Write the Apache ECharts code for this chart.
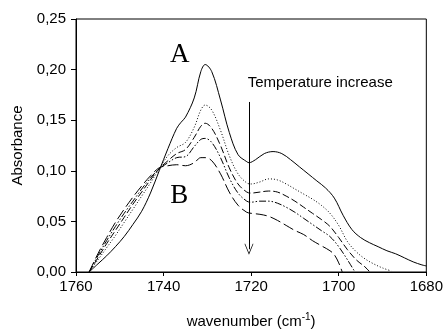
<!DOCTYPE html>
<html>
<head>
<meta charset="utf-8">
<script src="https://cdn.jsdelivr.net/npm/echarts@6/dist/echarts.min.js"></script>
<style>html,body{margin:0;padding:0;background:#fff}#c{width:446px;height:334px}</style>
</head>
<body>
<div id="c"></div>
<script>
// Wavenumbers (cm-1) and absorbance for each spectrum, from low to high temperature
var xA   = [1757,1755,1753,1751,1749,1747,1745,1743,1741,1739,1737,1736,1735,1733,1731.5,1730.5,1729,1727,1725,1723,1721,1720.5,1719,1717,1715,1713,1711,1709,1707,1705,1703,1701,1699,1697,1695,1693,1691,1689,1687,1685,1683,1681,1680];
var yA   = [0,0.008,0.016,0.025,0.035,0.047,0.060,0.078,0.100,0.122,0.142,0.148,0.153,0.172,0.198,0.205,0.198,0.170,0.138,0.116,0.109,0.108,0.111,0.117,0.119,0.117,0.111,0.104,0.097,0.090,0.083,0.073,0.056,0.042,0.034,0.029,0.025,0.021,0.018,0.014,0.010,0.007,0.006];

var xT   = [1757,1755,1753,1751,1749,1747,1745,1743,1741,1739,1737,1735,1733,1731.5,1730.5,1729,1727,1725,1723,1721,1720,1718,1716,1714,1712,1710,1708,1706,1704,1702,1700,1698,1696,1694,1692,1690,1688];
var y2   = [0,0.012,0.024,0.036,0.049,0.062,0.075,0.088,0.102,0.115,0.123,0.128,0.143,0.160,0.165,0.160,0.140,0.115,0.097,0.088,0.087,0.089,0.092,0.091,0.087,0.082,0.077,0.072,0.066,0.058,0.046,0.030,0.020,0.013,0.008,0.004,0.001];

var x3   = [1757,1755,1753,1751,1749,1747,1745,1743,1741,1739,1737,1735,1733,1731.5,1730.5,1729,1727,1725,1723,1721,1720,1718,1716,1714,1712,1710,1708,1706,1704,1702,1700,1698,1696,1694,1692.9];
var y3   = [0,0.014,0.028,0.041,0.054,0.067,0.079,0.091,0.102,0.110,0.117,0.121,0.133,0.144,0.147,0.142,0.125,0.103,0.087,0.079,0.078,0.079,0.080,0.079,0.075,0.070,0.064,0.058,0.052,0.045,0.034,0.022,0.012,0.005,0];

var x4   = [1757,1755,1753,1751,1749,1747,1745,1743,1741,1739,1737,1735,1733,1731.5,1730.5,1729,1727,1725,1723,1721,1720,1718,1716,1714,1712,1710,1708,1706,1704,1702,1700,1698,1696.3];
var y4   = [0,0.016,0.031,0.045,0.058,0.070,0.082,0.093,0.102,0.108,0.113,0.114,0.124,0.131,0.132,0.128,0.113,0.093,0.078,0.070,0.069,0.070,0.070,0.068,0.064,0.059,0.053,0.047,0.041,0.035,0.025,0.012,0];

var x5   = [1757,1755,1753,1751,1749,1747,1745,1743,1741,1739,1737,1735,1733,1731.5,1730.5,1729,1727,1725,1723,1721,1720,1718,1716,1714,1712,1710,1708,1706,1704,1702,1701,1700,1699.2];
var y5   = [0,0.018,0.034,0.049,0.062,0.074,0.085,0.095,0.103,0.105,0.106,0.105,0.108,0.113,0.113,0.110,0.097,0.079,0.066,0.059,0.058,0.057,0.055,0.051,0.046,0.041,0.037,0.031,0.026,0.021,0.017,0.009,0];

var yTicks = [0,0.05,0.10,0.15,0.20,0.25];
var xTicks = [1680,1700,1720,1740,1760];

var labelA = {text:'A', x:1736.3, y:0.2145};
var labelB = {text:'B', x:1736.4, y:0.075};
var arrow  = {x:1720.5, yTop:0.168, yTip:0.0225, text:'Temperature increase', textX:1720.9, textY:0.187};

function pairs(xs, ys){ return xs.map(function(x,i){return [x, ys[i]];}); }

var chart = echarts.init(document.getElementById('c'), null, {renderer:'canvas'});
var font = '"Liberation Sans", Arial, sans-serif';
var serif = '"Liberation Serif", "Times New Roman", serif';
var fs = 15;
function ls(type){ return {color:'#000', width:1, type:type}; }

var option = {
  animation:false,
  backgroundColor:'#fff',
  grid:{left:76, right:19, top:19, bottom:61, show:true, borderColor:'#000', borderWidth:1},
  xAxis:{
    type:'value', min:1680, max:1760, interval:20, inverse:true,
    name:'wavenumber (cm{sup|-1})', nameLocation:'middle', nameGap:40,
    nameTextStyle:{fontFamily:font, fontSize:fs, color:'#000',
      rich:{sup:{fontFamily:font, fontSize:10, color:'#000', verticalAlign:'top', padding:[0,0,9,0]}}},
    axisLine:{show:true, onZero:false, lineStyle:{color:'#000', width:1}},
    axisTick:{show:true, inside:false, length:4, lineStyle:{color:'#000'}},
    axisLabel:{fontFamily:font, fontSize:fs, color:'#000', margin:7,
      formatter:function(v){ return String(v); }},
    splitLine:{show:false}
  },
  yAxis:{
    type:'value', min:0, max:0.25, interval:0.05,
    name:'Absorbance', nameLocation:'middle', nameGap:51, nameRotate:90,
    nameTextStyle:{fontFamily:font, fontSize:fs, color:'#000'},
    axisLine:{show:true, lineStyle:{color:'#000', width:1}},
    axisTick:{show:true, inside:false, length:5, lineStyle:{color:'#000'}},
    axisLabel:{fontFamily:font, fontSize:fs, color:'#000', margin:10,
      formatter:function(v){ return v.toFixed(2).replace('.', ','); }},
    splitLine:{show:false}
  },
  series:[
    {type:'line', data:pairs(xA,yA), smooth:0.35, symbol:'none', lineStyle:ls('solid'),
      markPoint:{symbol:'circle', symbolSize:1, itemStyle:{color:'rgba(0,0,0,0)'},
        label:{show:true, position:'inside', color:'#000', fontFamily:serif, fontSize:27, formatter:'{b}'},
        data:[{name:labelA.text, coord:[labelA.x,labelA.y]},{name:labelB.text, coord:[labelB.x,labelB.y]}]},
      markLine:{silent:true, symbol:['none','path://M5,0 L10,10 L9.2,10 L5,1.8 L0.8,10 L0,10 Z'], symbolSize:[9,11],
        lineStyle:{color:'#000', width:1, type:'solid'}, label:{show:false},
        data:[[{coord:[arrow.x, arrow.yTop]},{coord:[arrow.x, arrow.yTip]}]]}
    },
    {type:'line', data:pairs(xT,y2), smooth:0.35, symbol:'none', lineStyle:ls([1,2]),
      markPoint:{symbol:'circle', symbolSize:1, itemStyle:{color:'rgba(0,0,0,0)'},
        label:{show:true, position:'right', distance:0, color:'#000', fontFamily:font, fontSize:fs, formatter:'{b}'},
        data:[{name:arrow.text, coord:[arrow.textX, arrow.textY]}]}
    },
    {type:'line', data:pairs(x3,y3), smooth:0.35, symbol:'none', lineStyle:ls([7,3])},
    {type:'line', data:pairs(x4,y4), smooth:0.35, symbol:'none', lineStyle:ls([7,2,1.5,2,1.5,2])},
    {type:'line', data:pairs(x5,y5), smooth:0.35, symbol:'none', lineStyle:ls([11,4])}
  ]
};
chart.setOption(option);
</script>
</body>
</html>
